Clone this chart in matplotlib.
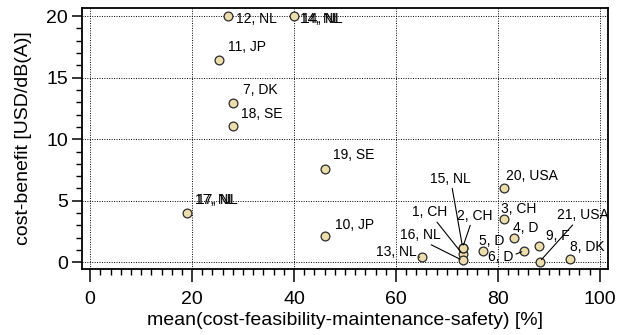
import matplotlib
matplotlib.use("Agg")
import matplotlib.pyplot as plt
from matplotlib.ticker import MultipleLocator

plt.rcParams["font.family"] = ["Liberation Sans", "DejaVu Sans"]

# measures: number, country, mean score [%], cost-benefit [USD/dB(A)]
ids = [1, 2, 3, 4, 5, 6, 7, 8, 9, 10, 11, 12, 13, 14, 15, 16, 17, 18, 19, 20, 21]
countries = ["CH", "CH", "CH", "D", "D", "D", "DK", "DK", "F", "JP", "JP",
             "NL", "NL", "NL", "NL", "NL", "NL", "SE", "SE", "USA", "USA"]
mean_score = [73.1, 73.1, 81.2, 83.2, 77.1, 85.2, 28.1, 94.2, 88.1, 46.1, 25.2,
              27.1, 65.2, 40.0, 73.1, 73.1, 19.1, 28.1, 46.1, 81.2, 88.2]
cost_benefit = [0.65, 1.2, 3.5, 2.0, 0.95, 0.95, 12.9, 0.3, 1.3, 2.1, 16.4,
                20.0, 0.4, 20.0, 1.2, 0.15, 4.0, 11.1, 7.55, 6.0, 0.05]

# label placement (offset in pixels, horizontal alignment, leader line start or None)
label_pos = {
    1: (-51, 42, "left", (0.53, 0.4)),
    2: (-6, 32, "left", (0.45, 0.3)),
    3: (-2.5, 10.5, "left", None),
    4: (-1.5, 9.5, "left", None),
    5: (-4, 9.5, "left", None),
    6: (-11, -6, "right", (1.0, 0.6)),
    7: (9.5, 13, "left", None),
    8: (-0.5, 12, "left", None),
    9: (6.5, 10, "left", None),
    10: (10, 11, "left", None),
    11: (9.5, 13, "left", None),
    12: (7.5, -2.5, "left", None),
    13: (-6, 5, "right", (0.95, 0.2)),
    14: (6, -2.5, "left", None),
    15: (-32.5, 69, "left", (0.53, 0.0)),
    16: (-62.5, 25.5, "left", (0.35, 0.4)),
    17: (7.5, 13, "left", None),
    18: (7.5, 12, "left", None),
    19: (8, 14, "left", None),
    20: (2.5, 12, "left", None),
    21: (17, 46.5, "left", (0.48, 0.5)),
}
doubled = [14, 17]  # labels printed twice on top of each other

fig = plt.figure(figsize=(6.19, 3.35), dpi=100)
ax = fig.add_axes([0.1325, 0.1985, 0.8495, 0.7775])

ax.scatter(mean_score, cost_benefit, s=40, facecolor="#ECDDAC",
           edgecolor="#2b2b2b", linewidth=0.9, zorder=3)

for i, c, x, y in zip(ids, countries, mean_score, cost_benefit):
    dx, dy, ha, rel = label_pos[i]
    props = None
    if rel is not None:
        props = dict(arrowstyle="-", color="black", lw=0.8,
                     shrinkA=0, shrinkB=2, relpos=rel)
    ax.annotate(f"{i}, {c}", (x, y), xytext=(dx, dy), textcoords="offset pixels",
                ha=ha, va="center", fontsize=10, arrowprops=props, zorder=4)
    if i in doubled:
        ax.annotate(f"{i}, {c}", (x, y), xytext=(dx + 2.5, dy),
                    textcoords="offset pixels", ha=ha, va="center",
                    fontsize=10, zorder=4)

ax.set_xlim(-1.6, 101.6)
ax.set_ylim(-0.5, 20.65)
ax.xaxis.set_major_locator(MultipleLocator(20))
ax.xaxis.set_minor_locator(MultipleLocator(2))
ax.yaxis.set_major_locator(MultipleLocator(5))
ax.yaxis.set_minor_locator(MultipleLocator(1))

ax.grid(True, which="major", color="black", linestyle=(0, (1, 1.5)), linewidth=0.7)
ax.set_axisbelow(True)

for sp in ax.spines.values():
    sp.set_linewidth(1.3)

ax.tick_params(axis="x", which="major", direction="out", length=9, width=1.1,
               pad=7, labelsize=14)
ax.tick_params(axis="x", which="minor", direction="out", length=4.5, width=1.0)
ax.tick_params(axis="y", which="major", direction="out", length=7, width=1.1,
               pad=3, labelsize=14)
ax.tick_params(axis="y", which="minor", direction="out", length=4, width=1.0)

ax.set_xlabel("mean(cost-feasibility-maintenance-safety) [%]", fontsize=14, labelpad=3)
ax.set_ylabel("cost-benefit [USD/dB(A)]", fontsize=14, labelpad=10)

fig.savefig("out.png", dpi=100)
